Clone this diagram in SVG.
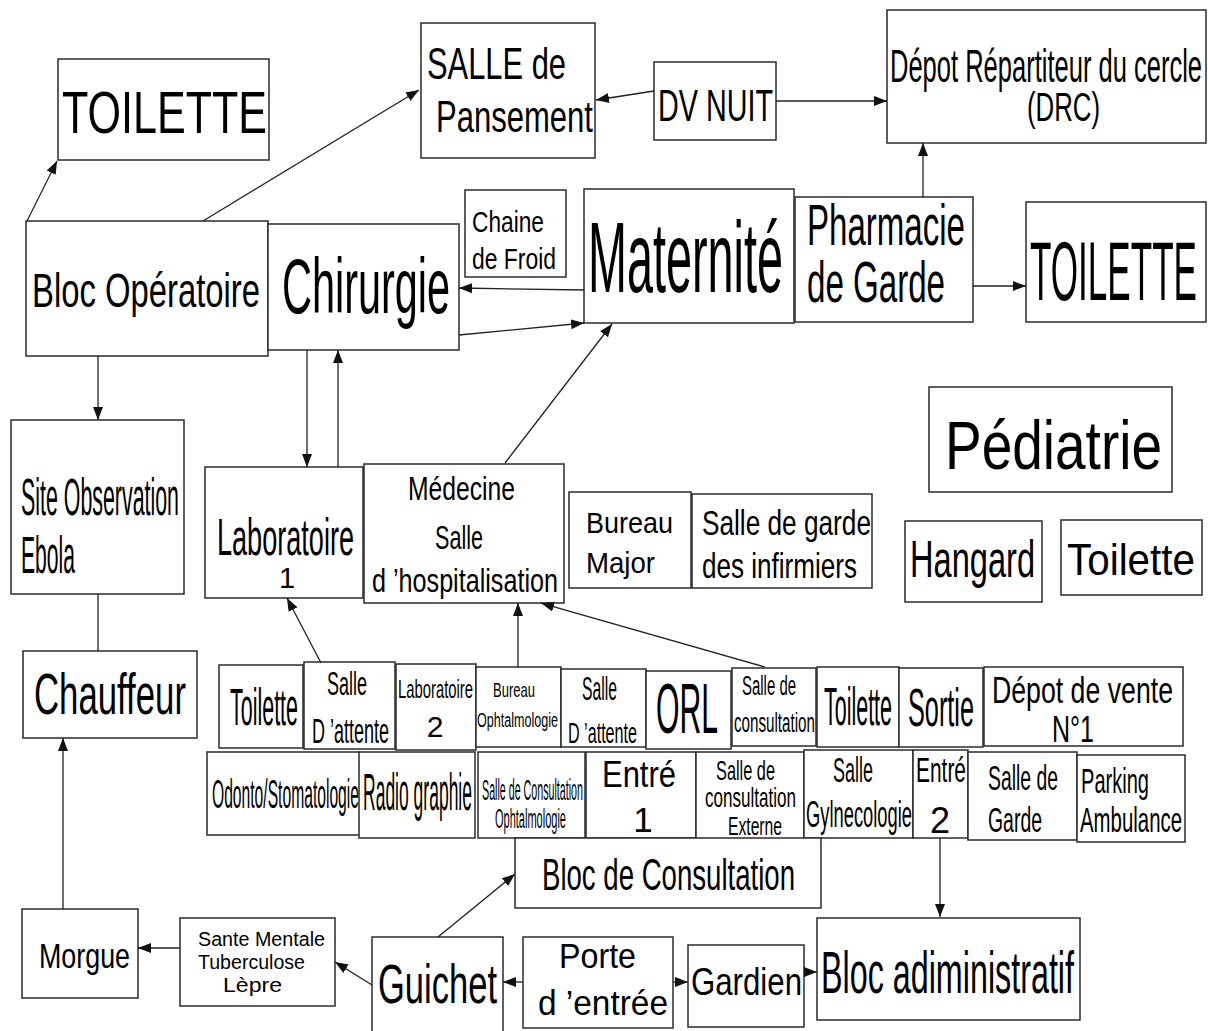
<svg xmlns="http://www.w3.org/2000/svg" width="1208" height="1031" viewBox="0 0 1208 1031">
<style>
.b{fill:#fff;stroke:#2b2b2b;stroke-width:1.5}
text{font-family:"Liberation Sans",Arial,sans-serif;fill:#000}
.c line{stroke:#222;stroke-width:1.3;fill:none}
.a{marker-end:url(#ah)}
</style>
<defs>
<marker id="ah" markerUnits="userSpaceOnUse" markerWidth="14" markerHeight="12" viewBox="0 0 14 12" refX="13" refY="6" orient="auto">
<path d="M0,1 L13,6 L0,11 Z" fill="#111"/>
</marker>
</defs>
<rect width="1208" height="1031" fill="#fff"/>

<g id="toilette-tl"><rect class="b" x="58" y="59" width="211" height="101"/><text x="62" y="133" font-size="60" textLength="205" lengthAdjust="spacingAndGlyphs">TOILETTE</text></g>
<g id="salle-pansement"><rect class="b" x="421" y="23" width="174" height="135"/><text x="427" y="79" font-size="45" textLength="139" lengthAdjust="spacingAndGlyphs">SALLE de</text><text x="436" y="132" font-size="45" textLength="157" lengthAdjust="spacingAndGlyphs">Pansement</text></g>
<g id="dv-nuit"><rect class="b" x="654" y="62" width="122" height="78"/><text x="658" y="121" font-size="45" textLength="115" lengthAdjust="spacingAndGlyphs">DV NUIT</text></g>
<g id="drc"><rect class="b" x="887" y="10" width="319" height="133"/><text x="890" y="82" font-size="46" textLength="312" lengthAdjust="spacingAndGlyphs">Dépot Répartiteur du cercle</text><text x="1027" y="121" font-size="40" textLength="73" lengthAdjust="spacingAndGlyphs">(DRC)</text></g>
<g id="bloc-operatoire"><rect class="b" x="26" y="221" width="242" height="135"/><text x="32" y="307" font-size="49" textLength="228" lengthAdjust="spacingAndGlyphs">Bloc Opératoire</text></g>
<g id="chirurgie"><rect class="b" x="268" y="224" width="191" height="126"/><text x="282" y="313" font-size="78" textLength="168" lengthAdjust="spacingAndGlyphs">Chirurgie</text></g>
<g id="chaine-froid"><rect class="b" x="465" y="190" width="101" height="87"/><text x="472" y="232" font-size="30" textLength="72" lengthAdjust="spacingAndGlyphs">Chaine</text><text x="472" y="269" font-size="30" textLength="84" lengthAdjust="spacingAndGlyphs">de Froid</text></g>
<g id="maternite"><rect class="b" x="584" y="189" width="210" height="134"/><text x="588" y="292" font-size="100" textLength="195" lengthAdjust="spacingAndGlyphs">Maternité</text></g>
<g id="pharmacie"><rect class="b" x="795" y="197" width="178" height="125"/><text x="807" y="245" font-size="57" textLength="158" lengthAdjust="spacingAndGlyphs">Pharmacie</text><text x="807" y="302" font-size="57" textLength="138" lengthAdjust="spacingAndGlyphs">de Garde</text></g>
<g id="toilette-r"><rect class="b" x="1026" y="202" width="180" height="120"/><text x="1030" y="300" font-size="84" textLength="167" lengthAdjust="spacingAndGlyphs">TOILETTE</text></g>
<g id="site-observation"><rect class="b" x="11" y="420" width="173" height="174"/><text x="21" y="515" font-size="51" textLength="158" lengthAdjust="spacingAndGlyphs">Site Observation</text><text x="21" y="573" font-size="51" textLength="54" lengthAdjust="spacingAndGlyphs">Ebola</text></g>
<g id="chauffeur"><rect class="b" x="23" y="651" width="174" height="87"/><text x="34" y="714" font-size="57" textLength="152" lengthAdjust="spacingAndGlyphs">Chauffeur</text></g>
<g id="laboratoire1"><rect class="b" x="205" y="467" width="158" height="131"/><text x="217" y="555" font-size="52" textLength="137" lengthAdjust="spacingAndGlyphs">Laboratoire</text><text x="287" y="588" font-size="29" text-anchor="middle">1</text></g>
<g id="medecine"><rect class="b" x="364" y="464" width="200" height="139"/><text x="408" y="500" font-size="33" textLength="107" lengthAdjust="spacingAndGlyphs">Médecine</text><text x="435" y="549" font-size="33" textLength="48" lengthAdjust="spacingAndGlyphs">Salle</text><text x="372" y="592" font-size="34" textLength="186" lengthAdjust="spacingAndGlyphs">d ’hospitalisation</text></g>
<g id="bureau-major"><rect class="b" x="569" y="492" width="122" height="96"/><text x="586" y="533" font-size="30" textLength="87" lengthAdjust="spacingAndGlyphs">Bureau</text><text x="586" y="573" font-size="30" textLength="69" lengthAdjust="spacingAndGlyphs">Major</text></g>
<g id="salle-garde-infirmiers"><rect class="b" x="692" y="494" width="180" height="94"/><text x="702" y="535" font-size="35" textLength="169" lengthAdjust="spacingAndGlyphs">Salle de garde</text><text x="702" y="578" font-size="35" textLength="155" lengthAdjust="spacingAndGlyphs">des infirmiers</text></g>
<g id="pediatrie"><rect class="b" x="929" y="387" width="243" height="105"/><text x="945" y="469" font-size="68" textLength="217" lengthAdjust="spacingAndGlyphs">Pédiatrie</text></g>
<g id="hangard"><rect class="b" x="905" y="521" width="137" height="81"/><text x="910" y="577" font-size="52" textLength="125" lengthAdjust="spacingAndGlyphs">Hangard</text></g>
<g id="toilette-r2"><rect class="b" x="1061" y="520" width="141" height="75"/><text x="1067" y="575" font-size="45" textLength="128" lengthAdjust="spacingAndGlyphs">Toilette</text></g>

<g id="toilette-row1"><rect class="b" x="219" y="665" width="84" height="83"/><text x="230" y="725" font-size="51" textLength="68" lengthAdjust="spacingAndGlyphs">Toilette</text></g>
<g id="salle-attente1"><rect class="b" x="304" y="662" width="91" height="87"/><text x="327" y="695" font-size="34" textLength="40" lengthAdjust="spacingAndGlyphs">Salle</text><text x="312" y="743" font-size="35" textLength="77" lengthAdjust="spacingAndGlyphs">D ’attente</text></g>
<g id="laboratoire2"><rect class="b" x="396" y="664" width="80" height="86"/><text x="398" y="698" font-size="25" textLength="75" lengthAdjust="spacingAndGlyphs">Laboratoire</text><text x="435" y="737" font-size="30" text-anchor="middle">2</text></g>
<g id="bureau-ophtalmologie"><rect class="b" x="476" y="667" width="85" height="80"/><text x="493" y="697" font-size="21" textLength="42" lengthAdjust="spacingAndGlyphs">Bureau</text><text x="477" y="727" font-size="20" textLength="81" lengthAdjust="spacingAndGlyphs">Ophtalmologie</text></g>
<g id="salle-attente2"><rect class="b" x="561" y="669" width="85" height="78"/><text x="582" y="700" font-size="33" textLength="35" lengthAdjust="spacingAndGlyphs">Salle</text><text x="568" y="743" font-size="30" textLength="69" lengthAdjust="spacingAndGlyphs">D ’attente</text></g>
<g id="orl"><rect class="b" x="646" y="671" width="85" height="78"/><text x="656" y="733" font-size="71" textLength="62" lengthAdjust="spacingAndGlyphs">ORL</text></g>
<g id="salle-consultation"><rect class="b" x="732" y="668" width="84" height="78"/><text x="742" y="695" font-size="27" textLength="54" lengthAdjust="spacingAndGlyphs">Salle de</text><text x="734" y="732" font-size="27" textLength="81" lengthAdjust="spacingAndGlyphs">consultation</text></g>
<g id="toilette-row1b"><rect class="b" x="817" y="667" width="82" height="80"/><text x="824" y="725" font-size="53" textLength="68" lengthAdjust="spacingAndGlyphs">Toilette</text></g>
<g id="sortie"><rect class="b" x="899" y="668" width="84" height="79"/><text x="908" y="726" font-size="53" textLength="66" lengthAdjust="spacingAndGlyphs">Sortie</text></g>
<g id="depot-vente"><rect class="b" x="984" y="667" width="199" height="79"/><text x="992" y="703" font-size="36" textLength="181" lengthAdjust="spacingAndGlyphs">Dépot de vente</text><text x="1052" y="742" font-size="37" textLength="42" lengthAdjust="spacingAndGlyphs">N°1</text></g>

<g id="odonto"><rect class="b" x="207" y="752" width="153" height="83"/><text x="212" y="808" font-size="40" textLength="147" lengthAdjust="spacingAndGlyphs">Odonto/Stomatologie</text></g>
<g id="radio"><rect class="b" x="359" y="752" width="116" height="86"/><text x="363" y="810" font-size="51" textLength="109" lengthAdjust="spacingAndGlyphs">Radio graphie</text></g>
<g id="salle-consultation-ophtalmologie"><rect class="b" x="478" y="752" width="107" height="86"/><text x="482" y="800" font-size="30" textLength="101" lengthAdjust="spacingAndGlyphs">Salle de Consultation</text><text x="495" y="828" font-size="27" textLength="71" lengthAdjust="spacingAndGlyphs">Ophtalmologie</text></g>
<g id="entre1"><rect class="b" x="586" y="752" width="110" height="86"/><text x="602" y="787" font-size="37" textLength="74" lengthAdjust="spacingAndGlyphs">Entré</text><text x="643" y="832" font-size="35" text-anchor="middle">1</text></g>
<g id="salle-consultation-externe"><rect class="b" x="696" y="752" width="108" height="87"/><text x="716" y="780" font-size="28" textLength="59" lengthAdjust="spacingAndGlyphs">Salle de</text><text x="705" y="807" font-size="28" textLength="91" lengthAdjust="spacingAndGlyphs">consultation</text><text x="728" y="835" font-size="26" textLength="54" lengthAdjust="spacingAndGlyphs">Externe</text></g>
<g id="gynecologie"><rect class="b" x="804" y="750" width="109" height="88"/><text x="833" y="782" font-size="35" textLength="40" lengthAdjust="spacingAndGlyphs">Salle</text><text x="806" y="827" font-size="37" textLength="106" lengthAdjust="spacingAndGlyphs">Gylnecologie</text></g>
<g id="entre2"><rect class="b" x="913" y="750" width="55" height="88"/><text x="916" y="782" font-size="35" textLength="50" lengthAdjust="spacingAndGlyphs">Entré</text><text x="940" y="833" font-size="36" text-anchor="middle">2</text></g>
<g id="salle-garde"><rect class="b" x="968" y="752" width="109" height="88"/><text x="988" y="790" font-size="35" textLength="70" lengthAdjust="spacingAndGlyphs">Salle de</text><text x="988" y="832" font-size="35" textLength="54" lengthAdjust="spacingAndGlyphs">Garde</text></g>
<g id="parking"><rect class="b" x="1077" y="755" width="108" height="87"/><text x="1081" y="793" font-size="35" textLength="68" lengthAdjust="spacingAndGlyphs">Parking</text><text x="1080" y="832" font-size="35" textLength="102" lengthAdjust="spacingAndGlyphs">Ambulance</text></g>

<g id="bloc-consultation"><rect class="b" x="515" y="838" width="306" height="70"/><text x="542" y="890" font-size="45" textLength="253" lengthAdjust="spacingAndGlyphs">Bloc de Consultation</text></g>
<g id="morgue"><rect class="b" x="22" y="909" width="116" height="89"/><text x="39" y="968" font-size="35" textLength="91" lengthAdjust="spacingAndGlyphs">Morgue</text></g>
<g id="sante-mentale"><rect class="b" x="180" y="918" width="155" height="88"/><text x="198" y="946" font-size="20" textLength="127" lengthAdjust="spacingAndGlyphs">Sante Mentale</text><text x="198" y="969" font-size="20" textLength="107" lengthAdjust="spacingAndGlyphs">Tuberculose</text><text x="223" y="992" font-size="21" textLength="59" lengthAdjust="spacingAndGlyphs">Lèpre</text></g>
<g id="guichet"><rect class="b" x="372" y="937" width="131" height="110"/><text x="378" y="1003" font-size="56" textLength="119" lengthAdjust="spacingAndGlyphs">Guichet</text></g>
<g id="porte"><rect class="b" x="523" y="937" width="150" height="91"/><text x="559" y="968" font-size="35" textLength="77" lengthAdjust="spacingAndGlyphs">Porte</text><text x="538" y="1015" font-size="35" textLength="130" lengthAdjust="spacingAndGlyphs">d ’entrée</text></g>
<g id="gardien"><rect class="b" x="688" y="945" width="116" height="82"/><text x="691" y="995" font-size="39" textLength="111" lengthAdjust="spacingAndGlyphs">Gardien</text></g>
<g id="bloc-administratif"><rect class="b" x="817" y="918" width="263" height="102"/><text x="821" y="993" font-size="60" textLength="253" lengthAdjust="spacingAndGlyphs">Bloc adiministratif</text></g>

<g id="connectors" class="c">
<line class="a" x1="27" y1="221" x2="57" y2="161"/>
<line class="a" x1="203" y1="221" x2="419" y2="90"/>
<line class="a" x1="654" y1="91" x2="596" y2="100"/>
<line class="a" x1="776" y1="101" x2="887" y2="101"/>
<line class="a" x1="923" y1="197" x2="923" y2="143"/>
<line class="a" x1="973" y1="286" x2="1026" y2="286"/>
<line class="a" x1="584" y1="290" x2="459" y2="288"/>
<line class="a" x1="459" y1="335" x2="584" y2="323"/>
<line class="a" x1="505" y1="463" x2="612" y2="324"/>
<line class="a" x1="98" y1="356" x2="98" y2="420"/>
<line x1="98" y1="594" x2="98" y2="651"/>
<line class="a" x1="63" y1="909" x2="63" y2="738"/>
<line class="a" x1="307" y1="350" x2="307" y2="467"/>
<line class="a" x1="338" y1="467" x2="338" y2="350"/>
<line class="a" x1="321" y1="663" x2="287" y2="598"/>
<line class="a" x1="518" y1="667" x2="518" y2="603"/>
<line class="a" x1="765" y1="667" x2="541" y2="603"/>
<line class="a" x1="180" y1="948" x2="138" y2="948"/>
<line class="a" x1="372" y1="985" x2="335" y2="962"/>
<line class="a" x1="438" y1="937" x2="515" y2="874"/>
<line class="a" x1="523" y1="982" x2="503" y2="982"/>
<line class="a" x1="673" y1="982" x2="688" y2="982"/>
<line class="a" x1="804" y1="972" x2="817" y2="972"/>
<line class="a" x1="940" y1="838" x2="940" y2="917"/>
</g>
</svg>
